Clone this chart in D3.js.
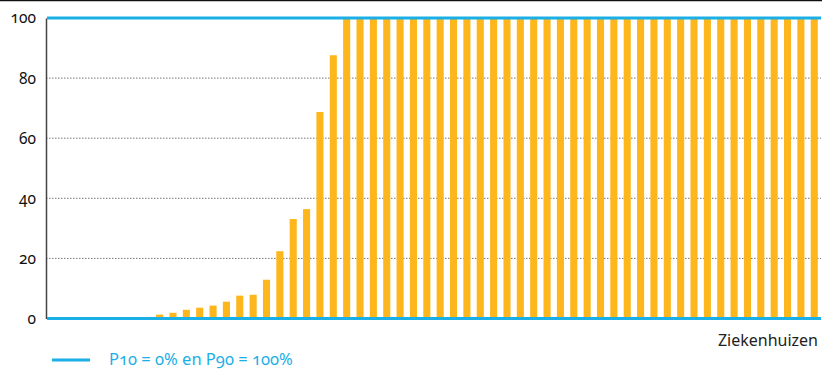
<!DOCTYPE html>
<html>
	<head>
		<meta charset="utf-8">
		<style type="text/css">
			body { margin: 0; background: #fff; }
			svg text { font-family: "Noto Sans", sans-serif; font-variant-numeric: oldstyle-nums; }
		</style>
		<title>Ziekenhuizen</title>
	</head>
	<body>
		<script src="https://cdn.jsdelivr.net/npm/d3@7"></script>
		<script>

			// percentage per ziekenhuis, sorted ascending
			var hospitals = d3.range(1, 59);
			var values = [
				0, 0, 0, 0, 0, 0, 0, 0,
				1.3, 1.9, 2.9, 3.6, 4.3, 5.6, 7.6, 7.9, 12.9, 22.4, 33.1, 36.4, 68.7, 87.6,
				100, 100, 100, 100, 100, 100, 100, 100, 100, 100, 100, 100,
				100, 100, 100, 100, 100, 100, 100, 100, 100, 100, 100, 100,
				100, 100, 100, 100, 100, 100, 100, 100, 100, 100, 100, 100
			];
			var yTicks = [0, 20, 40, 60, 80, 100];
			var refLines = [0, 100];   // P10 and P90
			var xLabel = "Ziekenhuizen";
			var legendLabel = "P10 = 0% en P90 = 100%";

			var totalWidth = 822;
			var totalHeight = 369;
			var margin = {top: 18, right: 1, bottom: 50, left: 46};

			var blue = "#1aafe6";
			var orange = "#fdb71c";

			var svg = d3.select("body").append("svg")
				.attr("width", totalWidth)
				.attr("height", totalHeight);

			var scaleX = d3.scaleBand()
				.domain(hospitals)
				.range([margin.left, totalWidth - margin.right])
				.paddingInner(0.47)
				.paddingOuter(0.24);

			var scaleY = d3.scaleLinear()
				.domain([0, 100])
				.range([totalHeight - margin.bottom - 0.5, margin.top]);

			// top border
			svg.append("line")
				.attr("x1", 0).attr("x2", totalWidth)
				.attr("y1", 0.5).attr("y2", 0.5)
				.style("stroke", "#111")
				.style("stroke-width", 1.5);

			// dotted grid
			svg.append("g")
				.selectAll("line")
				.data(yTicks.filter(function(d) { return d > 0 && d < 100; }))
				.enter().append("line")
					.attr("x1", margin.left)
					.attr("x2", totalWidth - margin.right)
					.attr("y1", function(d) { return scaleY(d); })
					.attr("y2", function(d) { return scaleY(d); })
					.style("stroke", "#777")
					.style("stroke-width", 1)
					.style("stroke-dasharray", "1.5,1.5");

			// y axis
			var yAxis = d3.axisLeft(scaleY)
				.tickValues(yTicks)
				.tickSize(0)
				.tickPadding(10);

			var gy = svg.append("g")
				.attr("transform", "translate(" + margin.left + ",0)")
				.call(yAxis);
			gy.select(".domain").style("stroke", "#444").style("stroke-width", 1.5);
			gy.selectAll("text")
				.style("font-size", "15.5px")
				.style("fill", "#111");

			// bars
			svg.append("g")
				.selectAll("rect")
				.data(values)
				.enter().append("rect")
					.attr("x", function(d, i) { return scaleX(hospitals[i]); })
					.attr("width", scaleX.bandwidth())
					.attr("y", function(d) { return scaleY(d); })
					.attr("height", function(d) { return scaleY(0) - scaleY(d); })
					.style("fill", orange);

			// P10 / P90 lines
			svg.append("g")
				.selectAll("line")
				.data(refLines)
				.enter().append("line")
					.attr("x1", margin.left + 1)
					.attr("x2", totalWidth - margin.right)
					.attr("y1", function(d) { return scaleY(d); })
					.attr("y2", function(d) { return scaleY(d); })
					.style("stroke", blue)
					.style("stroke-width", 3);

			// x label
			svg.append("text")
				.attr("x", 818)
				.attr("y", 346)
				.attr("text-anchor", "end")
				.style("font-size", "16px")
				.style("fill", "#222")
				.text(xLabel);

			// legend
			svg.append("line")
				.attr("x1", 52).attr("x2", 90)
				.attr("y1", 360).attr("y2", 360)
				.style("stroke", blue)
				.style("stroke-width", 3);

			svg.append("text")
				.attr("x", 109)
				.attr("y", 365)
				.style("font-size", "16.5px")
				.style("fill", blue)
				.text(legendLabel);

		</script>
	</body>
</html>
